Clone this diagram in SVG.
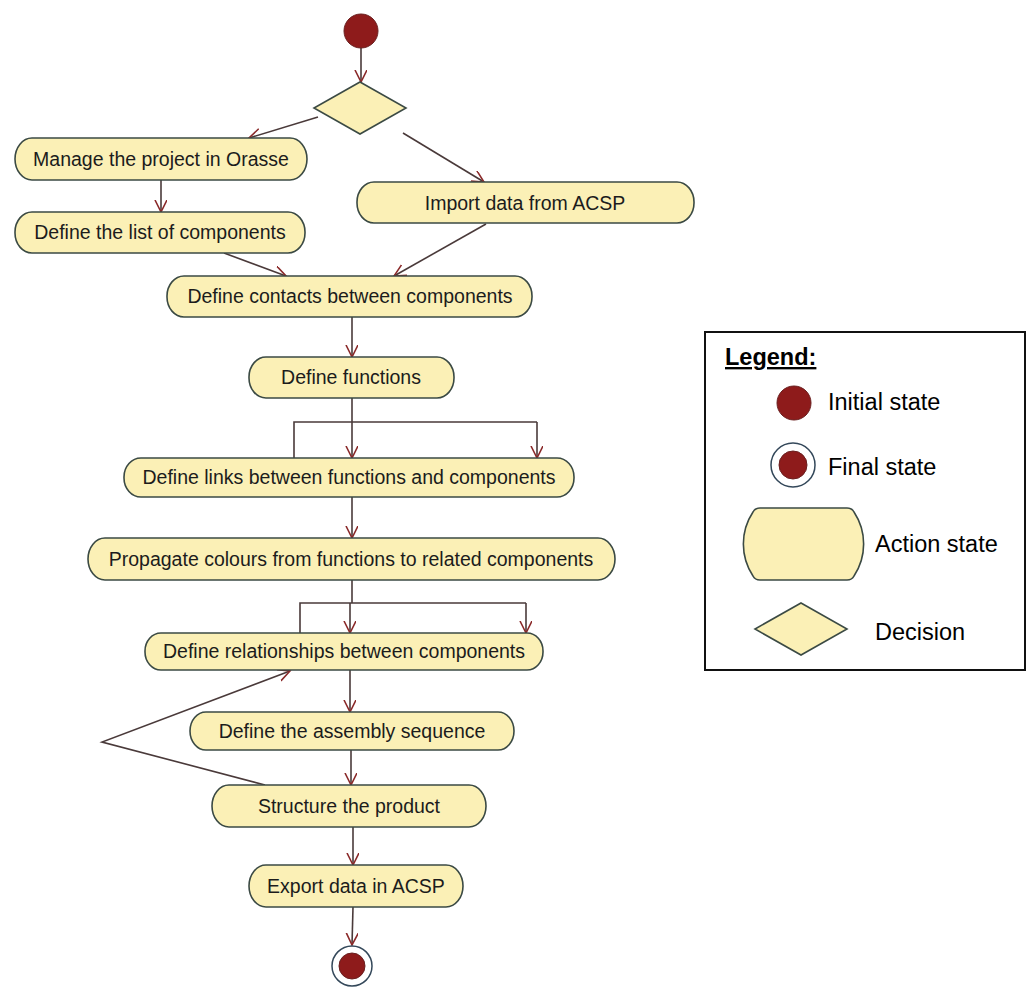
<svg xmlns="http://www.w3.org/2000/svg" width="1027" height="990" viewBox="0 0 1027 990">
<style>
.act{fill:#fbf0b6;stroke:#3b4a44;stroke-width:1.6}
.lbl{font-family:"Liberation Sans",Arial,sans-serif;font-size:19.5px;fill:#1c1c1c;text-anchor:middle}
.con{fill:none;stroke:#4a3a3a;stroke-width:1.6}
.arr{marker-end:url(#ah)}
.dot{fill:#8e1b1b;stroke:#6a2020;stroke-width:1}
.ring{fill:#ffffff;stroke:#34485a;stroke-width:1.5}
.leg{font-family:"Liberation Sans",Arial,sans-serif;font-size:23.5px;fill:#000}
</style>
<defs>
<marker id="ah" markerUnits="userSpaceOnUse" markerWidth="14" markerHeight="14" refX="12" refY="6" orient="auto">
<path d="M0,0 L12,6 L0,12" fill="none" stroke="#8b2a2a" stroke-width="1.6"/>
</marker>
</defs>
<rect width="1027" height="990" fill="#ffffff"/>

<g id="connectors">
<line class="con arr" x1="361" y1="48" x2="361" y2="82"/>
<line class="con arr" x1="318" y1="117" x2="249" y2="138"/>
<line class="con arr" x1="403" y1="133" x2="484" y2="182"/>
<line class="con arr" x1="161" y1="180" x2="161" y2="212"/>
<line class="con arr" x1="224" y1="253" x2="286" y2="276"/>
<line class="con arr" x1="486" y1="224" x2="394" y2="276"/>
<line class="con arr" x1="352" y1="317" x2="352" y2="357"/>
<polyline class="con" points="352,398 352,422"/>
<polyline class="con" points="294,458 294,422 537,422"/>
<line class="con arr" x1="352" y1="422" x2="352" y2="458"/>
<line class="con arr" x1="537" y1="422" x2="537" y2="458"/>
<line class="con arr" x1="352" y1="497" x2="352" y2="538"/>
<polyline class="con" points="352,580 352,603"/>
<polyline class="con" points="300,633 300,603 526,603"/>
<line class="con arr" x1="350" y1="603" x2="350" y2="633"/>
<line class="con arr" x1="526" y1="603" x2="526" y2="633"/>
<line class="con arr" x1="350" y1="670" x2="350" y2="712"/>
<polyline class="con arr" points="265,785 102,742 290,671"/>
<line class="con arr" x1="351" y1="750" x2="351" y2="785"/>
<line class="con arr" x1="353" y1="827" x2="353" y2="865"/>
<line class="con arr" x1="353" y1="907" x2="352" y2="945"/>
</g>

<g id="initial"><circle class="dot" cx="361" cy="31" r="17"/></g>
<g id="decision"><polygon class="act" points="360,82 406,108 360,134 314,108"/></g>
<g id="manage"><rect class="act" x="15" y="138" width="292" height="42" rx="17" ry="21"/><text class="lbl" x="161" y="166">Manage the project in Orasse</text></g>
<g id="list"><rect class="act" x="15" y="212" width="290" height="41" rx="17" ry="20"/><text class="lbl" x="160" y="239">Define the list of components</text></g>
<g id="import"><rect class="act" x="357" y="182" width="337" height="41" rx="17" ry="20"/><text class="lbl" x="525" y="210">Import data from ACSP</text></g>
<g id="contacts"><rect class="act" x="167" y="276" width="365" height="41" rx="17" ry="20"/><text class="lbl" x="350" y="303">Define contacts between components</text></g>
<g id="functions"><rect class="act" x="249" y="357" width="205" height="41" rx="17" ry="20"/><text class="lbl" x="351" y="384">Define functions</text></g>
<g id="links"><rect class="act" x="124" y="458" width="450" height="39" rx="17" ry="19"/><text class="lbl" x="349" y="484">Define links between functions and components</text></g>
<g id="propagate"><rect class="act" x="88" y="538" width="527" height="42" rx="17" ry="21"/><text class="lbl" x="351" y="566">Propagate colours from functions to related components</text></g>
<g id="relationships"><rect class="act" x="145" y="633" width="398" height="37" rx="16" ry="18"/><text class="lbl" x="344" y="658">Define relationships between components</text></g>
<g id="assembly"><rect class="act" x="190" y="712" width="324" height="38" rx="16" ry="19"/><text class="lbl" x="352" y="738">Define the assembly sequence</text></g>
<g id="structure"><rect class="act" x="212" y="785" width="274" height="42" rx="17" ry="21"/><text class="lbl" x="349" y="813">Structure the product</text></g>
<g id="export"><rect class="act" x="249" y="865" width="214" height="42" rx="17" ry="21"/><text class="lbl" x="356" y="893">Export data in ACSP</text></g>
<g id="final"><circle class="ring" cx="352" cy="966" r="20"/><circle class="dot" cx="352" cy="966" r="13"/></g>

<g id="legend">
<rect x="705" y="332" width="320" height="338" fill="none" stroke="#111" stroke-width="2"/>
<text class="leg" x="725" y="365" font-weight="bold" text-decoration="underline">Legend:</text>
<circle class="dot" cx="794" cy="403" r="17"/>
<text class="leg" x="828" y="410">Initial state</text>
<circle class="ring" cx="793" cy="465" r="22"/>
<circle class="dot" cx="793" cy="465" r="14"/>
<text class="leg" x="828" y="475">Final state</text>
<path class="act" d="M760,508 H847 Q852,508 854,512 A58,58 0 0 1 854,576 Q852,580 847,580 H760 Q755,580 753,576 A58,58 0 0 1 753,512 Q755,508 760,508 Z"/>
<text class="leg" x="875" y="552">Action state</text>
<polygon class="act" points="801,603 847,629 801,655 755,629"/>
<text class="leg" x="875" y="640">Decision</text>
</g>
</svg>
